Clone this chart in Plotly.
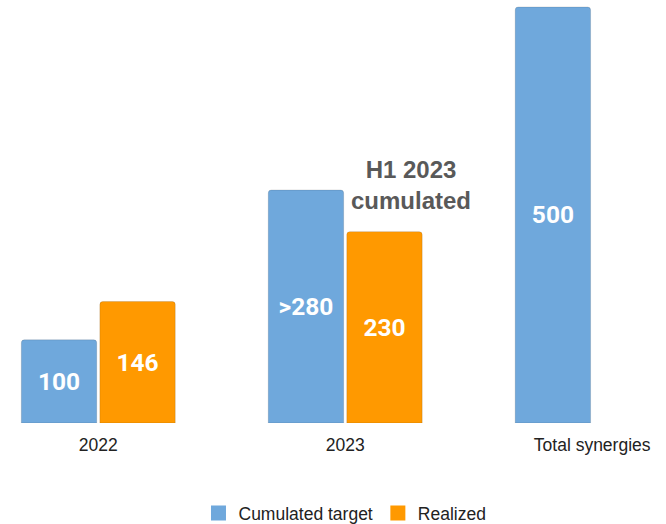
import plotly.graph_objects as go

categories = ["2022", "2023", "Total synergies"]
target_values = [100, 280, 500]
target_labels = ["100", ">280", "500"]
realized_values = [146, 230]
realized_labels = ["146", "230"]

BLUE = "#6FA8DC"
ORANGE = "#FF9900"

fig = go.Figure()

# Cumulated target bars (blue)
fig.add_trace(
    go.Bar(
        x=categories,
        y=target_values,
        text=target_labels,
        name="Cumulated target",
        showlegend=False,
        marker={"color": BLUE, "line": {"color": "rgba(0,0,0,0.12)", "width": 1}},
    )
)

# Realized bars (orange), no value for total synergies
fig.add_trace(
    go.Bar(
        x=categories[:2],
        y=realized_values,
        text=realized_labels,
        name="Realized",
        showlegend=False,
        marker={"color": ORANGE, "line": {"color": "rgba(0,0,0,0.12)", "width": 1}},
    )
)

fig.update_traces(
    textposition="inside",
    insidetextanchor="middle",
    textangle=0,
    textfont={"family": "Roboto", "size": 24.5, "color": "white", "weight": "bold"},
    hoverinfo="skip",
)

# Legend entries with bigger square swatches
for name, color in [("Cumulated target", BLUE), ("Realized", ORANGE)]:
    fig.add_trace(
        go.Scatter(
            x=[None],
            y=[None],
            mode="markers",
            name=name,
            marker={"symbol": "square", "size": 15, "color": color},
        )
    )

fig.add_annotation(
    x=1.267,
    y=286,
    xref="x",
    yref="y",
    text="<b>H1 2023<br>cumulated</b>",
    showarrow=False,
    font={"family": "Liberation Sans", "size": 24, "color": "#595959"},
)

fig.update_layout(
    width=666,
    height=524,
    margin={"l": 0, "r": 0, "t": 0, "b": 101, "autoexpand": False},
    barmode="group",
    bargap=0.364,
    bargroupgap=0.04,
    barcornerradius=3,
    plot_bgcolor="white",
    paper_bgcolor="white",
    font={"family": "Liberation Sans", "size": 17, "color": "#222"},
    xaxis={
        "range": [-0.398, 2.299],
        "showgrid": False,
        "showline": False,
        "zeroline": False,
        "ticks": "",
        "automargin": False,
        "ticklabelstandoff": 9,
        "tickfont": {"size": 17.5, "color": "#222"},
    },
    yaxis={
        "range": [0, 508.4],
        "visible": False,
    },
    legend={
        "orientation": "h",
        "x": 0.518,
        "xanchor": "center",
        "y": -0.213,
        "yanchor": "middle",
        "font": {"size": 17.5, "color": "#222"},
        "itemwidth": 30,
    },
    showlegend=True,
)

# drop the default page margin so the figure sits at the window corner
fig.write_html(
    "out.html",
    config={"displayModeBar": False},
    post_script="document.body.style.margin = '0';",
)
